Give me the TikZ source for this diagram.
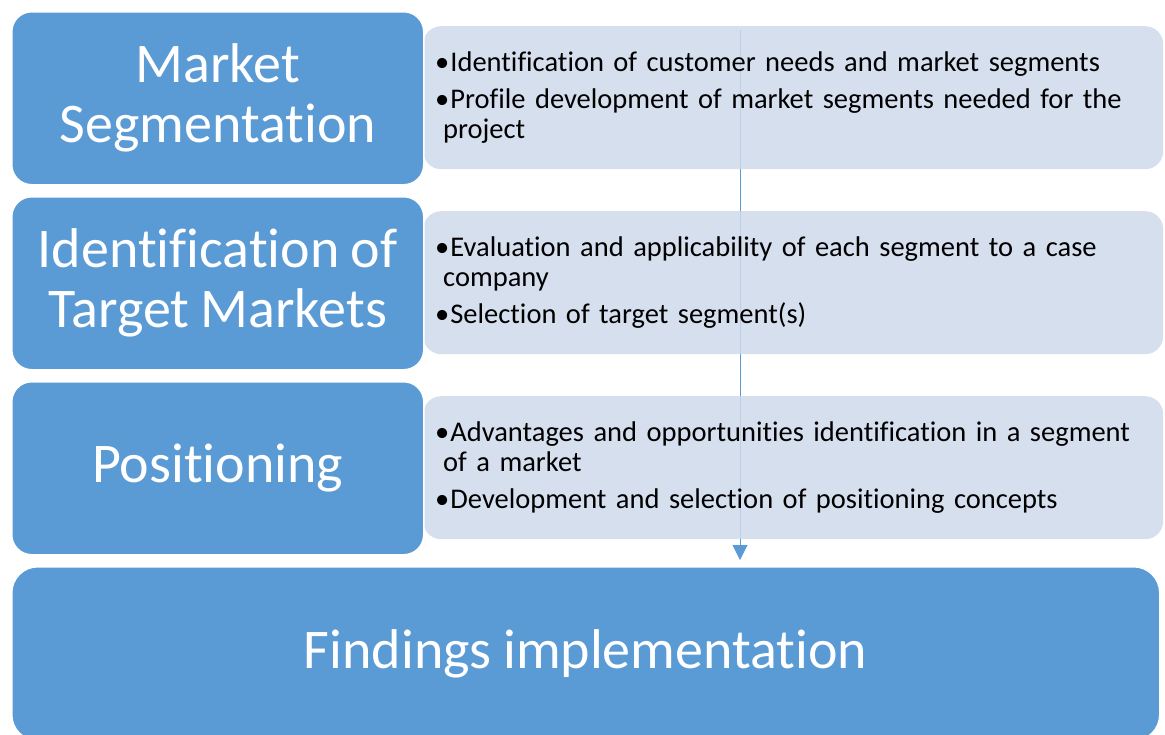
\documentclass[tikz,border=0pt]{standalone}
\usepackage{fontspec}
\setmainfont{Carlito}[Ligatures={NoCommon}, WordSpace=0.9]
\usetikzlibrary{arrows.meta}
\definecolor{stageblue}{HTML}{5B9BD5}
\definecolor{notefill}{RGB}{206,217,235}
\newcommand{\itm}{\textbullet\hspace{1pt}}
\newcommand{\cont}{\hspace*{8pt}}
\begin{document}
\begin{tikzpicture}[x=1pt,y=-1pt,
  stagebox/.style={fill=stageblue, draw=white, line width=1.5pt,
    rounded corners=20pt, text=white, align=center, inner sep=0pt,
    anchor=north west, minimum width=412pt, minimum height=173pt,
    font=\fontsize{56}{60}\selectfont},
  notebox/.style={fill=notefill, fill opacity=0.85, text opacity=1,
    rounded corners=18pt, align=left, inner xsep=12pt, inner ysep=0pt,
    anchor=north west, text width=716pt, minimum height=143pt,
    font=\fontsize{28.5}{30}\selectfont},
  flow/.style={draw=stageblue, line width=1pt,
    -{Triangle[width=15pt,length=15pt]}}]
\useasboundingbox (0,0) rectangle (1165,734);

% vertical flow line, drawn first so the note panels tint it
\coordinate (flowtop) at (740,30);
\coordinate (flowend) at (740,560);
\draw[flow] (flowtop) -- (flowend);

% note panels
\node[notebox] (n1) at (423,26) {%
  \itm Identification of customer needs and market segments\\[7pt]
  \itm Profile development of market segments needed for the\\
  \cont project};
\node[notebox] (n2) at (423,211) {%
  \itm Evaluation and applicability of each segment to a case\\
  \cont company\\[7pt]
  \itm Selection of target segment(s)};
\node[notebox] (n3) at (423,396) {%
  \itm Advantages and opportunities identification in a segment\\
  \cont of a market\\[7pt]
  \itm Development and selection of positioning concepts};

% stage boxes
\node[stagebox] (s1) at (11,11) {Market\\Segmentation};
\node[stagebox] (s2) at (11,196) {Identification of\\Target Markets};
\node[stagebox] (s3) at (11,381) {Positioning};
\node[stagebox, rounded corners=26pt, minimum width=1148pt,
  minimum height=174pt]
  (s4) at (11,566) {Findings implementation};
\end{tikzpicture}
\end{document}
